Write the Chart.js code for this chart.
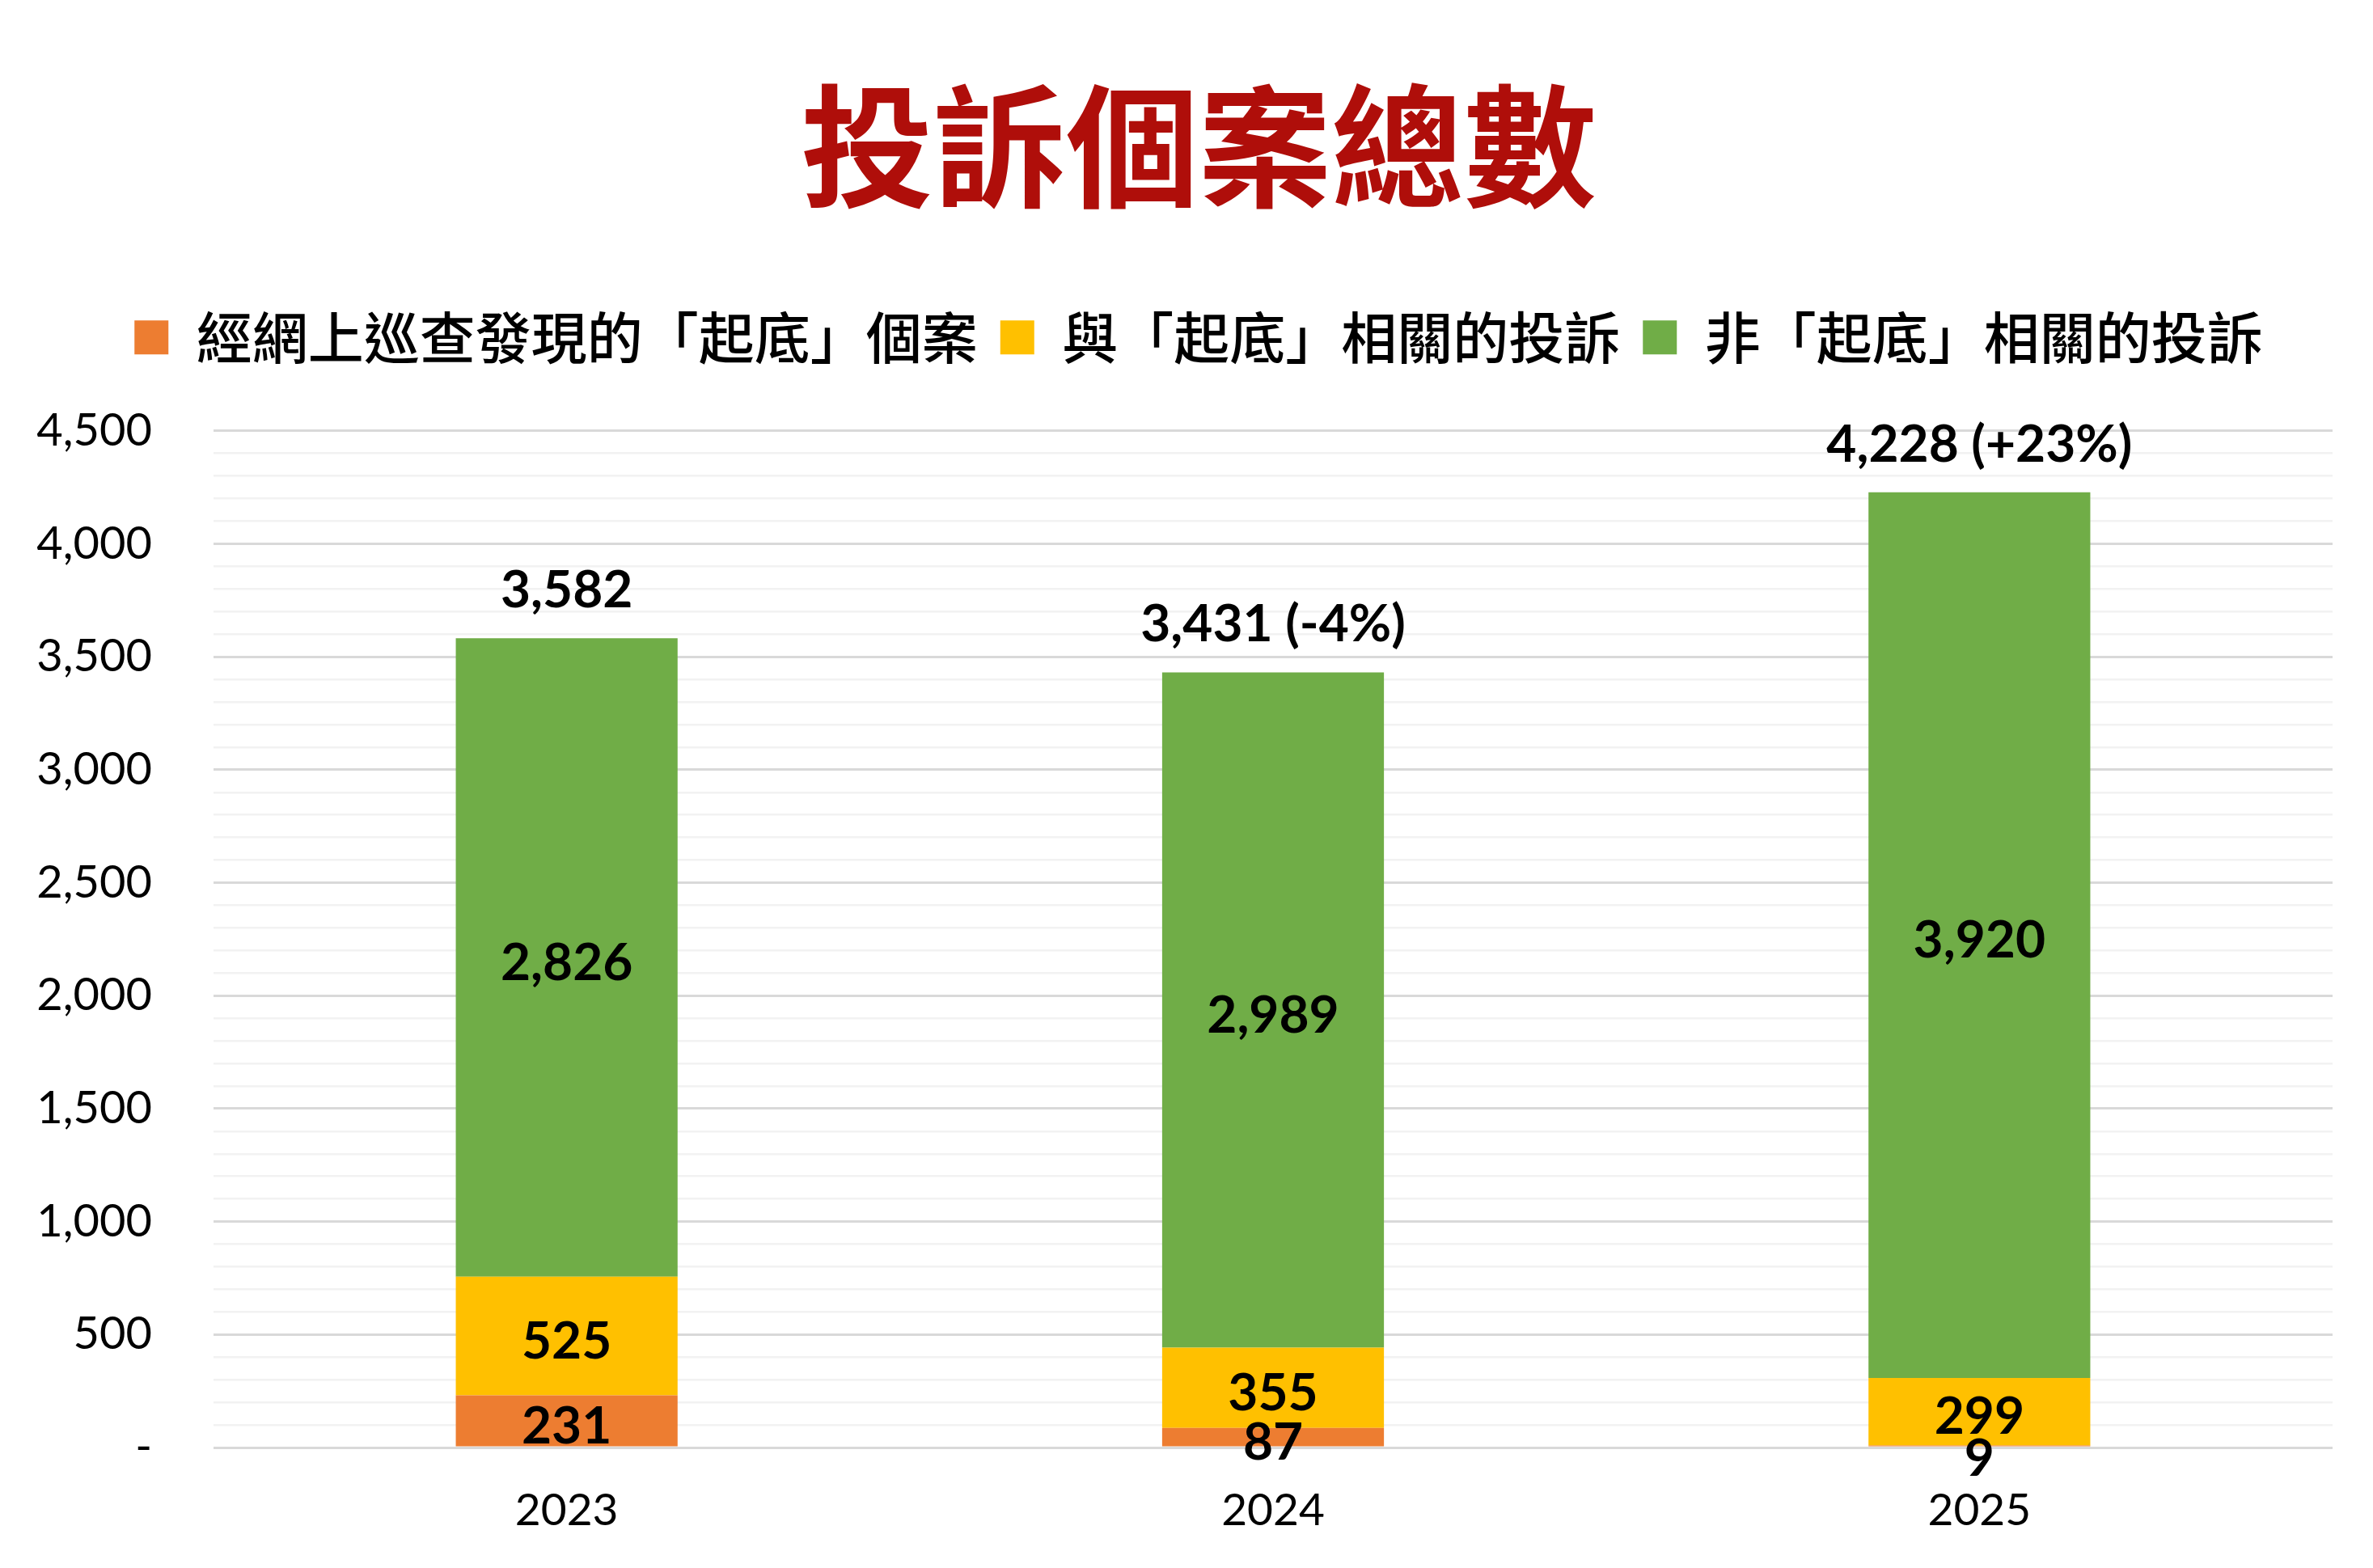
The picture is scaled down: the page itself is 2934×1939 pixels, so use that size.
<!DOCTYPE html>
<html>
<head>
<meta charset="utf-8">
<script src="https://cdn.jsdelivr.net/npm/chart.js@4.4.1/dist/chart.umd.min.js"></script>
<style>
  html, body { margin: 0; padding: 0; background: #ffffff; }
  #wrap { width: 2934px; height: 1939px; position: relative; }
</style>
</head>
<body>
<div id="wrap"><canvas id="c" width="2934" height="1939"></canvas></div>
<script>
// ---- data ----
const chartTitle = '投訴個案總數';
const categories = ['2023', '2024', '2025'];
const seriesNames = ['經網上巡查發現的「起底」個案', '與「起底」相關的投訴', '非「起底」相關的投訴'];
const doxxingFound = [231, 87, 9];
const doxxingComplaints = [525, 355, 299];
const nonDoxxingComplaints = [2826, 2989, 3920];
const seriesColors = ['#ED7D31', '#FFC000', '#70AD47'];
const yMin = 0;
const yMax = 4500;
const yMinorStep = 100;
const yMajorStep = 500;

const seriesValues = [doxxingFound, doxxingComplaints, nonDoxxingComplaints];
const totals = categories.map((_, i) => seriesValues.reduce((s, arr) => s + arr[i], 0));
const fmt = v => v.toLocaleString('en-US');
const totalLabels = totals.map((t, i) => {
  if (i === 0) return fmt(t);
  const pct = Math.round((t - totals[i - 1]) / totals[i - 1] * 100);
  return fmt(t) + ' (' + (pct > 0 ? '+' : '') + pct + '%)';
});

const LATIN = "Lato, 'Noto Sans CJK TC', sans-serif";
const CJK = "'Noto Sans CJK TC', 'Noto Sans CJK SC', sans-serif";

Chart.defaults.font.family = LATIN;
Chart.defaults.color = '#000000';

const valueLabels = {
  id: 'valueLabels',
  beforeLayout(chart) {
    const lg = chart.legend;
    if (lg && !lg._patched) {
      const f = lg.fit;
      lg.fit = function () { f.call(this); this.height = 178; };
      lg._patched = true;
    }
  },
  afterDatasetsDraw(chart) {
    const ctx = chart.ctx;
    ctx.save();
    ctx.fillStyle = '#000000';
    ctx.textAlign = 'center';
    ctx.font = 'bold 64px ' + LATIN;
    const labelH = 52;
    const n = chart.data.datasets.length;
    categories.forEach((cat, i) => {
      ctx.textBaseline = 'middle';
      let prev = null;
      for (let d = n - 1; d >= 0; d--) {
        const el = chart.getDatasetMeta(d).data[i];
        let cy = (el.y + el.base) / 2 + 7;
        if (prev !== null && cy - prev < labelH) cy = prev + labelH;
        ctx.fillText(fmt(chart.data.datasets[d].data[i]), el.x, cy);
        prev = cy;
      }
      const topEl = chart.getDatasetMeta(n - 1).data[i];
      ctx.textBaseline = 'alphabetic';
      ctx.fillText(totalLabels[i], topEl.x, topEl.y - 38);
    });
    ctx.restore();
  }
};

new Chart(document.getElementById('c'), {
  type: 'bar',
  data: {
    labels: categories,
    datasets: seriesValues.map((vals, k) => ({
      label: seriesNames[k],
      data: vals,
      backgroundColor: seriesColors[k],
      borderWidth: 0,
      barPercentage: 0.314,
      categoryPercentage: 1.0
    }))
  },
  options: {
    responsive: false,
    devicePixelRatio: 1,
    animation: false,
    layout: { padding: { left: 30, right: 0, top: 0, bottom: 0 } },
    plugins: {
      tooltip: { enabled: false },
      title: {
        display: true,
        text: chartTitle,
        color: '#AF0E0A',
        font: { family: CJK, size: 164, weight: 'bold', lineHeight: 1.2 },
        padding: { top: 82, bottom: 76 }
      },
      legend: {
        display: true,
        position: 'top',
        labels: {
          font: { family: CJK, size: 69, weight: '500' },
          color: '#000000',
          boxWidth: 42,
          boxHeight: 42,
          padding: 28
        }
      }
    },
    scales: {
      x: {
        stacked: true,
        grid: { display: false, drawTicks: false },
        border: { display: false },
        ticks: { font: { size: 55 }, color: '#000000', padding: 45 },
        afterFit(s) { s.height = 149; }
      },
      y: {
        stacked: true,
        min: yMin,
        max: yMax,
        border: { display: false },
        grid: {
          drawTicks: false,
          color: c => (c.tick && c.tick.value % yMajorStep === 0) ? '#D9D9D9' : '#F2F2F2',
          lineWidth: c => (c.tick && c.tick.value % yMajorStep === 0) ? 3 : 2.5
        },
        ticks: {
          stepSize: yMinorStep,
          autoSkip: false,
          font: { size: 56 },
          color: '#000000',
          padding: 76,
          callback: v => v === 0 ? '-' : (v % yMajorStep === 0 ? fmt(v) : '')
        },
        afterFit(s) { s.width = 234; }
      },
      yRightSpace: {
        position: 'right',
        display: true,
        grid: { display: false, drawTicks: false },
        border: { display: false },
        ticks: { display: false },
        afterFit(s) { s.width = 50; }
      }
    }
  },
  plugins: [valueLabels]
});
</script>
</body>
</html>
